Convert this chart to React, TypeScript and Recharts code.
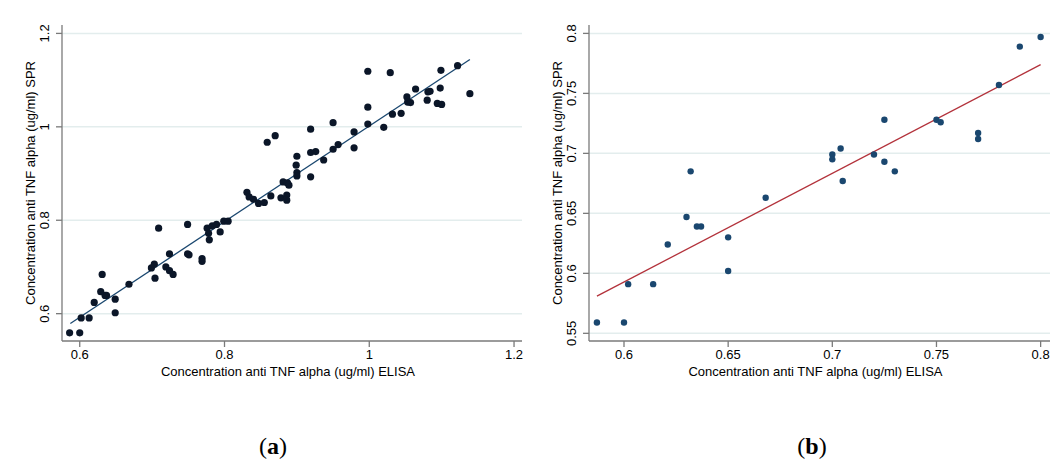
import React from 'react';
import {CartesianGrid, Label, Scatter, ScatterChart, XAxis, YAxis} from 'recharts';

// panel (a)
const elisaA: number[] = [
    0.586, 0.600, 0.602, 0.613, 0.620, 0.629, 0.631, 0.635, 0.637, 0.649, 0.649, 0.668,
    0.699, 0.703, 0.704, 0.709, 0.719, 0.724, 0.724, 0.729, 0.749, 0.749, 0.751, 0.769,
    0.769, 0.776, 0.778, 0.779, 0.783, 0.789, 0.794, 0.799, 0.805, 0.831, 0.834, 0.840,
    0.847, 0.855, 0.859, 0.864, 0.870, 0.878, 0.881, 0.886, 0.886, 0.887, 0.889, 0.899,
    0.900, 0.900, 0.900, 0.919, 0.919, 0.926, 0.919, 0.937, 0.950, 0.950, 0.957, 0.979,
    0.979, 0.998, 0.998, 0.998, 1.020, 1.029, 1.032, 1.044, 1.052, 1.053, 1.057, 1.064,
    1.080, 1.081, 1.084, 1.098, 1.094, 1.100, 1.099, 1.122, 1.139,
];
const sprA: number[] = [
    0.559, 0.559, 0.591, 0.591, 0.624, 0.647, 0.684, 0.639, 0.639, 0.631, 0.602, 0.663,
    0.698, 0.706, 0.676, 0.783, 0.700, 0.728, 0.692, 0.684, 0.791, 0.728, 0.726, 0.718,
    0.712, 0.783, 0.772, 0.758, 0.788, 0.791, 0.775, 0.798, 0.798, 0.860, 0.850, 0.845,
    0.836, 0.838, 0.967, 0.852, 0.981, 0.848, 0.882, 0.854, 0.843, 0.880, 0.875, 0.918,
    0.937, 0.902, 0.895, 0.995, 0.945, 0.947, 0.893, 0.929, 1.009, 0.952, 0.962, 0.989,
    0.955, 1.119, 1.042, 1.006, 0.999, 1.116, 1.027, 1.029, 1.064, 1.053, 1.052, 1.081,
    1.057, 1.075, 1.076, 1.083, 1.050, 1.048, 1.121, 1.131, 1.071,
];
const fitAx: number[] = [0.587, 1.139];
const fitAy: number[] = [0.579, 1.144];
const ticksA: number[] = [0.6, 0.8, 1, 1.2];

// panel (b)
const elisaB: number[] = [
    0.587, 0.600, 0.602, 0.614, 0.621, 0.630, 0.632, 0.635, 0.637, 0.650, 0.650, 0.668,
    0.700, 0.700, 0.704, 0.705, 0.720, 0.725, 0.725, 0.730, 0.750, 0.752, 0.770, 0.770,
    0.780, 0.790, 0.800,
];
const sprB: number[] = [
    0.559, 0.559, 0.591, 0.591, 0.624, 0.647, 0.685, 0.639, 0.639, 0.630, 0.602, 0.663,
    0.699, 0.695, 0.704, 0.677, 0.699, 0.728, 0.693, 0.685, 0.728, 0.726, 0.717, 0.712,
    0.757, 0.789, 0.797,
];
const fitBx: number[] = [0.587, 0.8];
const fitBy: number[] = [0.581, 0.774];
const xTicksB: number[] = [0.6, 0.65, 0.7, 0.75, 0.8];
const yTicksB: number[] = [0.55, 0.6, 0.65, 0.7, 0.75, 0.8];

const xTitle = 'Concentration anti TNF alpha (ug/ml) ELISA';
const yTitle = 'Concentration anti TNF alpha (ug/ml) SPR';

const font = '"Liberation Sans", Arial, sans-serif';
const axisColor = '#7a7a7a';
const gridColor = '#e3eded';

const zip = (xs: number[], ys: number[]) => xs.map((x, i) => ({x, y: ys[i]}));

function VTick(props: any) {
    const {x, y, payload} = props;
    const tx = x - 4.5;
    return (
        <text x={tx} y={y} transform={`rotate(-90 ${tx} ${y})`} textAnchor="middle"
              fontFamily={font} fontSize={13} fill="#000">
            {payload.value}
        </text>
    );
}

function Panel(props: {
    points: {x: number, y: number}[];
    fit: {x: number, y: number}[];
    xDomain: [number, number];
    yDomain: [number, number];
    xTicks: number[];
    yTicks: number[];
    dotColor: string;
    dotR: number;
    lineColor: string;
    width: number;
    right: number;
}) {
    const p = props;
    return (
        <ScatterChart width={p.width} height={400} margin={{top: 25, right: p.right, bottom: 0, left: 0}}>
            <CartesianGrid horizontal={true} vertical={false} stroke={gridColor} strokeWidth={1.5}
                           horizontalValues={p.yTicks}/>
            <XAxis type="number" dataKey="x" domain={p.xDomain} ticks={p.xTicks} height={59}
                   allowDataOverflow stroke={axisColor} strokeWidth={1.3} tickSize={6} tickMargin={3}
                   tick={{fill: '#000', fontSize: 13, fontFamily: font}}>
                <Label content={(lp: any) => {
                    const vb = lp.viewBox;
                    return (
                        <text x={vb.x + vb.width / 2 - 4} y={376} textAnchor="middle"
                              fontFamily={font} fontSize={13} fill="#000">{xTitle}</text>
                    );
                }}/>
            </XAxis>
            <YAxis type="number" dataKey="y" domain={p.yDomain} ticks={p.yTicks} width={62}
                   allowDataOverflow stroke={axisColor} strokeWidth={1.3} tickSize={6} tickMargin={2}
                   tick={<VTick/>}>
                <Label content={(lp: any) => {
                    const vb = lp.viewBox;
                    const cy = vb.y + vb.height / 2;
                    return (
                        <text x={35} y={cy} transform={`rotate(-90 35 ${cy})`} textAnchor="middle"
                              fontFamily={font} fontSize={13} fill="#000">{yTitle}</text>
                    );
                }}/>
            </YAxis>
            <Scatter data={p.fit} line={{stroke: p.lineColor, strokeWidth: 1.3}} shape={() => null}
                     isAnimationActive={false}/>
            <Scatter data={p.points} fill={p.dotColor} isAnimationActive={false}
                     shape={(sp: any) => <circle cx={sp.cx} cy={sp.cy} r={p.dotR} fill={p.dotColor}/>}/>
        </ScatterChart>
    );
}

const capStyle: React.CSSProperties = {
    position: 'absolute', top: 431, width: 60, textAlign: 'center',
    fontFamily: '"Liberation Serif", "DejaVu Serif", serif', fontSize: 24, lineHeight: '30px', color: '#000',
};

export default function App(): React.JSX.Element {
    return (
        <div style={{position: 'absolute', left: 0, top: 0, width: 1051, height: 464, background: '#fff'}}>
            <div style={{position: 'absolute', left: 0, top: 0}}>
                <Panel points={zip(elisaA, sprA)} fit={zip(fitAx, fitAy)}
                       xDomain={[0.5755, 1.211]} yDomain={[0.5415, 1.218]}
                       xTicks={ticksA} yTicks={ticksA}
                       dotColor="#0b1628" dotR={3.6} lineColor="#1a476f" width={530} right={8}/>
            </div>
            <div style={{position: 'absolute', left: 527, top: 0}}>
                <Panel points={zip(elisaB, sprB)} fit={zip(fitBx, fitBy)}
                       xDomain={[0.5832, 0.8045]} yDomain={[0.5436, 0.807]}
                       xTicks={xTicksB} yTicks={yTicksB}
                       dotColor="#1a476f" dotR={3.2} lineColor="#b3323b" width={524} right={1}/>
            </div>
            <div style={{...capStyle, left: 243}}>(<b>a</b>)</div>
            <div style={{...capStyle, left: 782}}>(<b>b</b>)</div>
        </div>
    );
}
